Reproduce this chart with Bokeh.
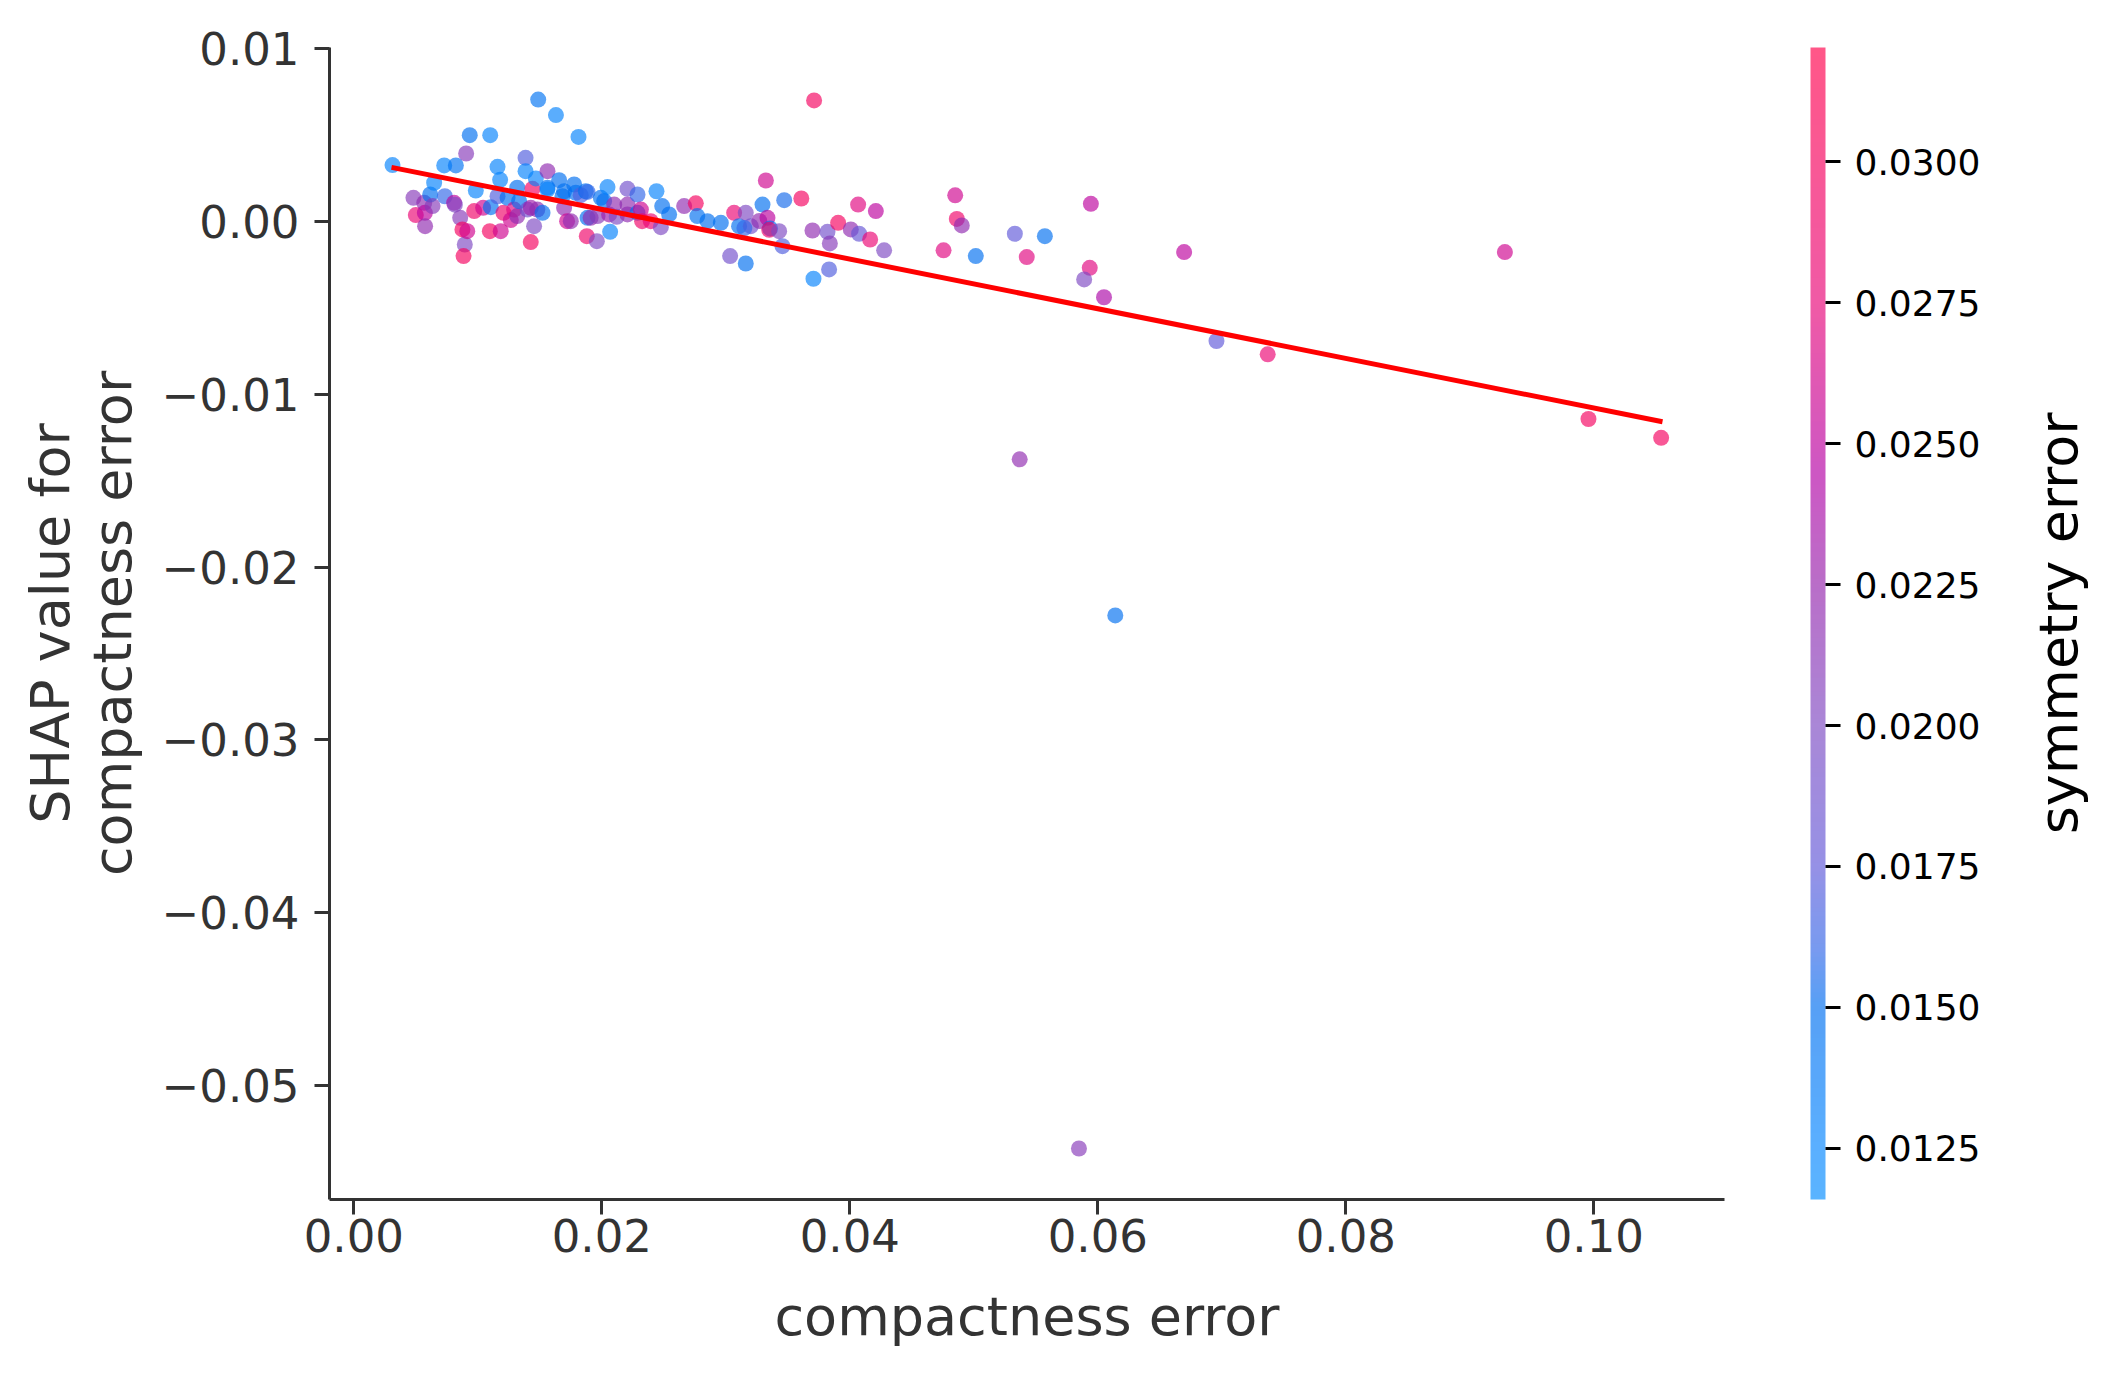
import math
import numpy as np
from bokeh.plotting import figure
from bokeh.layouts import row
from bokeh.core.properties import value
from bokeh.models import (ColumnDataSource, LinearColorMapper, ColorBar, FixedTicker,
                          CustomJSTickFormatter, Range1d)
from bokeh.transform import transform
from bokeh.embed import file_html
from bokeh.resources import INLINE

# ---------------- data ----------------
compactness_error = [
    0.00312, 0.00481, 0.00500, 0.00568, 0.00573, 0.00575, 0.00616, 0.00635, 0.00648, 0.00729,
    0.00734, 0.00809, 0.00815, 0.00823, 0.00858, 0.00876, 0.00895, 0.00885, 0.00906, 0.00915,
    0.00935, 0.00971, 0.00984, 0.01043, 0.01097, 0.01105, 0.01100, 0.01159, 0.01159, 0.01180,
    0.01185,
    0.01207, 0.01240, 0.01266, 0.01293, 0.01318, 0.01318, 0.01333, 0.01385, 0.01385, 0.01401,
    0.01427, 0.01427, 0.01441, 0.01454, 0.01468, 0.01480, 0.01487, 0.01522, 0.01562, 0.01562,
    0.01562, 0.01630, 0.01656, 0.01683, 0.01696, 0.01696, 0.01720, 0.01750, 0.01777, 0.01790,
    0.01812, 0.01830, 0.01871, 0.01879, 0.01885, 0.01885, 0.01910, 0.01960, 0.01966, 0.01992,
    0.02019, 0.02046, 0.02059, 0.02067, 0.02100, 0.02120, 0.02207, 0.02207, 0.02207, 0.02288,
    0.02288, 0.02315, 0.02325, 0.02395, 0.02441, 0.02476, 0.02487, 0.02543, 0.02664, 0.02758,
    0.02770, 0.02852, 0.02960,
    0.03035, 0.03067, 0.03107, 0.03161, 0.03161, 0.03202, 0.03150, 0.03296, 0.03323, 0.03270,
    0.03336, 0.03357, 0.03350, 0.03430, 0.03457, 0.03471, 0.03609, 0.03712, 0.03699, 0.03707,
    0.03820, 0.03839, 0.03833, 0.03906, 0.04008, 0.04067, 0.04075, 0.04164, 0.04210, 0.04277,
    0.04756, 0.04850, 0.04863, 0.04903, 0.05016, 0.05331, 0.05427, 0.05370, 0.05573, 0.05944,
    0.05935, 0.05890, 0.06050, 0.06141, 0.05848, 0.06696, 0.06957, 0.07370, 0.09283, 0.09957,
    0.10543,
]
shap_value = [
    0.00324, 0.00135, 0.00035, 0.00106, 0.00048, -0.00029, 0.00154, 0.00087, 0.00222, 0.00322,
    0.00144, 0.00106, 0.00095, 0.00322, 0.00019, -0.00048, -0.00135, -0.00202, 0.00391, -0.00058,
    0.00497, 0.00058, 0.00177, 0.00077, -0.00058, 0.00081, 0.00497, 0.00314, 0.00144, 0.00239,
    -0.00058,
    0.00048, 0.00135, 0.00006, 0.00067, 0.00029, 0.00193, 0.00116, 0.00366, 0.00289, 0.00067,
    0.00077, -0.00121, 0.00187, -0.00029, 0.00247, 0.00067, 0.00703, 0.00048, 0.00289, 0.00193,
    0.00183, 0.00613, 0.00237, 0.00144, 0.00077, 0.00173, 0.00000, 0.00000, 0.00212, 0.00164,
    0.00487, 0.00150, 0.00173, -0.00087, 0.00169, 0.00019, 0.00019, -0.00116, 0.00029, 0.00135,
    0.00116, 0.00197, 0.00039, -0.00062, 0.00096, 0.00025, 0.00187, 0.00096, 0.00039, 0.00154,
    0.00048, 0.00067, 0.00000, 0.00000, 0.00173, -0.00035, 0.00087, 0.00039, 0.00087, 0.00103,
    0.00029, 0.00000, -0.00010,
    -0.00202, 0.00048, -0.00029, 0.00048, -0.00245, -0.00029, -0.00040, 0.00096, 0.00235, 0.00001,
    0.00019, -0.00042, -0.00050, -0.00058, -0.00145, 0.00121, 0.00131, 0.00698, -0.00054, -0.00333,
    -0.00062, -0.00129, -0.00279, -0.00010, -0.00048, 0.00096, -0.00073, -0.00106, 0.00058, -0.00169,
    -0.00169, 0.00149, 0.00013, -0.00025, -0.00202, -0.00073, -0.00208, -0.01377, -0.00087, 0.00100,
    -0.00270, -0.00337, -0.00440, -0.02280, -0.05362, -0.00179, -0.00693, -0.00770, -0.00179, -0.01144,
    -0.01253,
]
symmetry_error = [
    0.0130, 0.0210, 0.0280, 0.0220, 0.0250, 0.0220, 0.0150, 0.0210, 0.0130, 0.0130,
    0.0160, 0.0250, 0.0200, 0.0145, 0.0210, 0.0300, 0.0200, 0.0300, 0.0210, 0.0260,
    0.0150, 0.0290, 0.0130, 0.0260, 0.0300, 0.0150, 0.0130, 0.0130, 0.0170, 0.0130,
    0.0260,
    0.0290, 0.0150, 0.0260, 0.0270, 0.0220, 0.0150, 0.0150, 0.0170, 0.0130, 0.0190,
    0.0230, 0.0300, 0.0300, 0.0200, 0.0130, 0.0220, 0.0145, 0.0150, 0.0220, 0.0150,
    0.0130, 0.0130, 0.0150, 0.0150, 0.0220, 0.0150, 0.0260, 0.0220, 0.0150, 0.0150,
    0.0130, 0.0170, 0.0150, 0.0290, 0.0160, 0.0150, 0.0220, 0.0200, 0.0210, 0.0150,
    0.0150, 0.0130, 0.0230, 0.0130, 0.0220, 0.0200, 0.0190, 0.0220, 0.0220, 0.0160,
    0.0150, 0.0260, 0.0290, 0.0280, 0.0130, 0.0200, 0.0150, 0.0150, 0.0220, 0.0300,
    0.0150, 0.0150, 0.0150,
    0.0190, 0.0280, 0.0150, 0.0200, 0.0150, 0.0190, 0.0160, 0.0150, 0.0260, 0.0220,
    0.0250, 0.0150, 0.0290, 0.0200, 0.0170, 0.0155, 0.0300, 0.0300, 0.0220, 0.0130,
    0.0190, 0.0210, 0.0170, 0.0300, 0.0220, 0.0270, 0.0180, 0.0280, 0.0250, 0.0200,
    0.0270, 0.0260, 0.0290, 0.0220, 0.0150, 0.0175, 0.0270, 0.0220, 0.0150, 0.0250,
    0.0270, 0.0200, 0.0240, 0.0150, 0.0210, 0.0250, 0.0175, 0.0280, 0.0260, 0.0300,
    0.0300,
]
fit_x = [0.00304, 0.10554]
fit_y = [0.00311, -0.01160]

x_ticks = [0.00, 0.02, 0.04, 0.06, 0.08, 0.10]
y_ticks = [-0.05, -0.04, -0.03, -0.02, -0.01, 0.00, 0.01]
cbar_ticks = [0.0125, 0.0150, 0.0175, 0.0200, 0.0225, 0.0250, 0.0275, 0.0300]
cbar_low, cbar_high = 0.01159, 0.03203
cbar_title = ["symmetry error"]

# ---------------- colour map (blue -> purple -> red) ----------------
stop_v = [0.01159, 0.0125, 0.0150, 0.0160, 0.0175, 0.0200, 0.0225, 0.0245, 0.0275, 0.03203]
stop_rgb = [(5, 141, 255), (5, 134, 255), (0, 111, 240), (50, 103, 232), (96, 88, 217),
            (126, 73, 194), (149, 35, 172), (180, 0, 165), (232, 5, 120), (255, 0, 75)]
vals = np.linspace(cbar_low, cbar_high, 256)
chan = [np.interp(vals, stop_v, [c[k] for c in stop_rgb]) for k in range(3)]
palette = ["#%02x%02x%02x" % (int(round(r)), int(round(g)), int(round(b)))
           for r, g, b in zip(*chan)]
mapper = LinearColorMapper(palette=palette, low=cbar_low, high=cbar_high)

src = ColumnDataSource(dict(x=compactness_error, y=shap_value, c=symmetry_error))

FONT = "DejaVu Sans"
GREY = "#333333"

p = figure(frame_width=1395, frame_height=1152,
           min_border_left=329, min_border_top=47, min_border_right=286, min_border_bottom=170,
           x_range=Range1d(-0.00196, 0.11054), y_range=Range1d(-0.05657, 0.01004),
           output_backend="svg", toolbar_location=None)
p.outline_line_color = None
p.xgrid.visible = False
p.ygrid.visible = False
p.background_fill_color = "white"
p.border_fill_color = "white"

p.scatter("x", "y", source=src, size=16, fill_color=transform("c", mapper),
          fill_alpha=0.66, line_color=None)
p.line(fit_x, fit_y, line_color="#ff0000", line_width=5)

p.xaxis.ticker = FixedTicker(ticks=x_ticks)
p.yaxis.ticker = FixedTicker(ticks=y_ticks)
p.xaxis.formatter = CustomJSTickFormatter(code="return tick.toFixed(2);")
p.yaxis.formatter = CustomJSTickFormatter(code="return tick.toFixed(2).replace('-', '\\u2212');")
p.xaxis.axis_label = "compactness error"
p.yaxis.axis_label = "SHAP value for\ncompactness error"
for ax in (p.xaxis[0], p.yaxis[0]):
    ax.axis_line_color = GREY
    ax.axis_line_width = 3
    ax.major_tick_line_color = GREY
    ax.major_tick_line_width = 3
    ax.major_tick_in = 0
    ax.major_tick_out = 15
    ax.minor_tick_line_color = None
    ax.major_label_text_font = FONT
    ax.major_label_text_font_size = "45px"
    ax.major_label_text_color = GREY
    ax.axis_label_text_font = FONT
    ax.axis_label_text_font_size = "54px"
    ax.axis_label_text_font_style = "normal"
    ax.axis_label_text_color = GREY
    ax.axis_label_text_line_height = 0.97
p.xaxis.major_label_standoff = 4
p.yaxis.major_label_standoff = 15
p.xaxis.axis_label_standoff = 30
p.yaxis.axis_label_standoff = 15

cb = ColorBar(color_mapper=mapper, ticker=FixedTicker(ticks=cbar_ticks),
              formatter=CustomJSTickFormatter(code="return tick.toFixed(4);"),
              width=15, height=1152, location=(86, 0), padding=0, margin=0,
              major_tick_in=0, major_tick_out=15, major_tick_line_color="black",
              major_tick_line_width=3, minor_tick_line_color=None,
              major_label_text_font=FONT, major_label_text_font_size="36px",
              major_label_text_color="black", label_standoff=14,
              bar_line_color=None, border_line_color=None, background_fill_color=None,
              scale_alpha=0.66)
p.add_layout(cb, "right")

# narrow companion figure holding the colour-bar title (reads bottom to top)
t = figure(frame_width=100, frame_height=1152, min_border_left=0, min_border_right=0,
           min_border_top=47, min_border_bottom=170,
           x_range=Range1d(0, 100), y_range=Range1d(0, 1),
           x_axis_location=None, y_axis_location=None,
           output_backend="svg", toolbar_location=None)
t.outline_line_color = None
t.xgrid.visible = False
t.ygrid.visible = False
t.text(x=[48], y=[0.5], text=cbar_title, angle=math.pi / 2, text_align="center",
       text_baseline="middle", text_font=value(FONT), text_font_size=value("54px"),
       text_color="black")

open("out.html", "w").write(file_html(row(p, t), INLINE))
